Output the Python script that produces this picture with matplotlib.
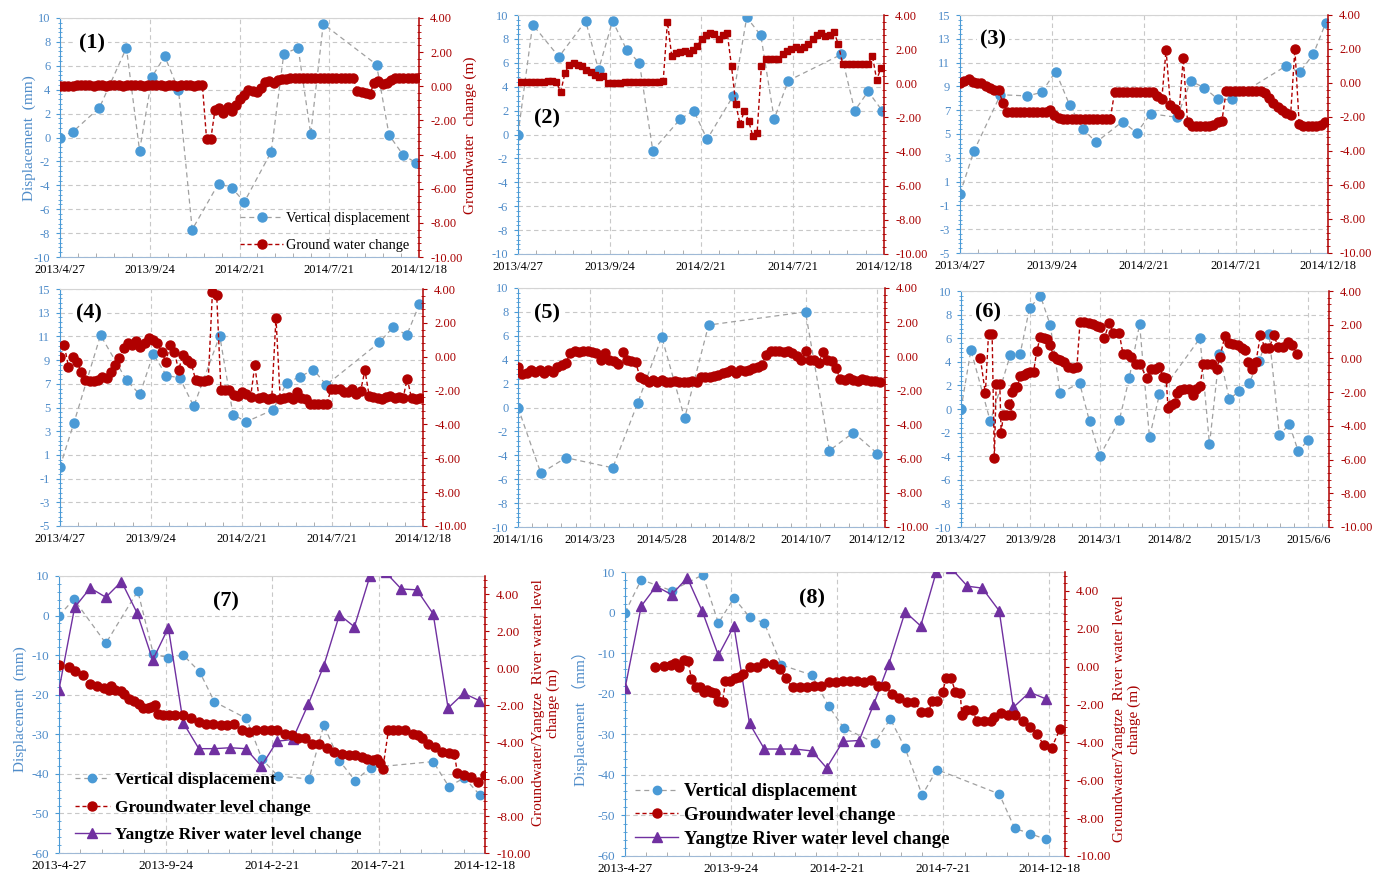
import re
import numpy as np
import pandas as pd
import matplotlib
matplotlib.use('Agg')
import matplotlib.pyplot as plt
import matplotlib.dates as mdates
from matplotlib.ticker import FixedLocator, FormatStrFormatter

plt.rcParams['font.family'] = ['Liberation Serif', 'Noto Sans CJK SC']

W, H = 1391, 883
BLUE = '#4a9ad6'
BLUE_TXT = '#4f8cc9'
RED = '#b00000'
RED_TXT = '#a80000'
PURPLE = '#7030a0'
DASH_GRAY = '#a0a0a0'

# ---------------- data ----------------
# x tick labels
ticks_a = ['2013/4/27', '2013/9/24', '2014/2/21', '2014/7/21', '2014/12/18']
ticks_5 = ['2014/1/16', '2014/3/23', '2014/5/28', '2014/8/2', '2014/10/7', '2014/12/12']
ticks_6 = ['2013/4/27', '2013/9/28', '2014/3/1', '2014/8/2', '2015/1/3', '2015/6/6']
ticks_b = ['2013-4-27', '2013-9-24', '2014-2-21', '2014-7-21', '2014-12-18']

# vertical displacement (mm), days after the first tick date
disp1_day = [0, 22, 66, 111, 133, 154, 175, 198, 221, 265, 287, 308, 353, 374, 398, 419, 440, 529, 550, 574, 595]
disp1 = [0, 0.5, 2.5, 7.5, -1.1, 5.1, 6.8, 4.0, -7.7, -3.85, -4.2, -5.4, -1.2, 7.0, 7.5, 0.3, 9.5, 6.1, 0.2, -1.5, -2.1]
disp2_day = [0, 24, 67, 111, 132, 155, 178, 199, 221, 266, 288, 310, 353, 375, 398, 420, 443, 530, 552, 574, 597]
disp2 = [0, 9.2, 6.5, 9.5, 5.4, 9.5, 7.1, 6.0, -1.35, 1.3, 2.0, -0.4, 3.25, 9.8, 8.3, 1.3, 4.5, 6.7, 2.0, 3.6, 2.0]
disp3_day = [0, 23, 66, 110, 133, 156, 179, 200, 222, 265, 288, 311, 354, 376, 398, 421, 443, 531, 554, 576, 596]
disp3 = [0, 3.6, 8.3, 8.2, 8.5, 10.25, 7.4, 5.45, 4.3, 6.05, 5.1, 6.7, 6.4, 9.45, 8.9, 7.9, 7.9, 10.7, 10.2, 11.7, 14.3]
disp4_day = [0, 23, 67, 110, 132, 154, 176, 198, 221, 264, 286, 308, 352, 375, 397, 419, 440, 528, 551, 573, 594]
disp4 = [0, 3.7, 11.1, 7.3, 6.1, 9.5, 7.7, 7.5, 5.1, 11.05, 4.4, 3.8, 4.8, 7.1, 7.6, 8.2, 6.9, 10.5, 11.8, 11.1, 13.7]
disp5_day = [0, 21, 44, 87, 110, 132, 153, 175, 264, 286, 308, 330]
disp5 = [0, -5.5, -4.2, -5.05, 0.4, 5.9, -0.9, 6.9, 8.0, -3.6, -2.1, -3.85]
disp6_day = [0, 22, 65, 109, 131, 152, 176, 198, 220, 263, 285, 308, 351, 373, 396, 418, 440, 530, 551, 573,
             595, 617, 639, 661, 683, 706, 728, 748, 770]
disp6 = [0, 5.0, -1.05, 4.55, 4.65, 8.55, 9.6, 7.1, 1.35, 2.2, -1.05, -3.95, -0.95, 2.6, 7.2, -2.4, 1.25, 6.0, -3.0,
         4.65, 0.85, 1.5, 2.2, 4.1, 6.35, -2.2, -1.3, -3.6, -2.6]
disp7_day = [0, 21, 66, 111, 133, 154, 175, 198, 219, 264, 286, 308, 352, 373, 395, 417, 439, 527, 549, 571, 593]
disp7 = [0, 4.1, -7.0, 6.2, -9.8, -10.6, -10.0, -14.2, -21.8, -26.0, -36.3, -40.5, -41.3, -27.7, -36.7, -41.7,
         -38.4, -36.9, -43.2, -41.0, -45.4]
disp8_day = [0, 23, 66, 110, 132, 154, 176, 197, 221, 264, 288, 309, 353, 375, 396, 420, 441, 529, 551, 573, 595]
disp8 = [0, 8.1, 5.4, 9.3, -2.6, 3.6, -1.1, -2.6, -12.9, -15.4, -23.1, -28.4, -32.1, -26.2, -33.4, -45.0, -38.7,
         -44.7, -53.2, -54.5, -55.9]

# groundwater change (m), regular daily-record samples
gw1_step = 7
gw1 = [0.0, 0.0, 0.0, 0.02, 0.05, 0.05, 0.05, 0.05, 0.0, 0.05,
       0.05, 0.0, 0.05, 0.05, 0.05, 0.0, 0.05, 0.05, 0.05, 0.05,
       0.0, 0.05, 0.05, 0.05, 0.05, 0.0, 0.05, 0.05, 0.0, 0.05,
       0.05, 0.05, 0.0, 0.05, 0.05, -3.1, -3.1, -1.4, -1.3, -1.55,
       -1.2, -1.45, -1.1, -0.75, -0.5, -0.2, -0.25, -0.35, -0.1, 0.25,
       0.3, 0.2, 0.35, 0.45, 0.45, 0.5, 0.5, 0.5, 0.5, 0.5,
       0.5, 0.5, 0.5, 0.5, 0.5, 0.5, 0.5, 0.5, 0.5, 0.5,
       0.5, -0.3, -0.35, -0.4, -0.45, 0.2, 0.3, 0.15, 0.2, 0.35,
       0.5, 0.5, 0.5, 0.5, 0.5, 0.5]
gw2_step = 7
gw2 = [0.05, 0.05, 0.05, 0.05, 0.08, 0.1, 0.1, 0.15, 0.15, 0.05,
       -0.5, 0.6, 1.1, 1.2, 1.1, 1.0, 0.8, 0.65, 0.5, 0.35,
       0.45, 0.0, 0.0, 0.0, 0.02, 0.05, 0.05, 0.05, 0.08, 0.08,
       0.1, 0.1, 0.1, 0.1, 0.12, 3.6, 1.6, 1.75, 1.85, 1.9,
       1.8, 1.95, 2.2, 2.6, 2.8, 2.95, 2.9, 2.6, 2.85, 2.95,
       1.0, -1.2, -2.4, -1.6, -2.2, -3.1, -2.9, 1.0, 1.45, 1.45,
       1.45, 1.45, 1.7, 1.9, 2.0, 2.1, 2.0, 2.1, 2.3, 2.6,
       2.85, 2.95, 2.75, 2.8, 3.0, 2.3, 1.15, 1.15, 1.15, 1.15,
       1.15, 1.15, 1.15, 1.6, 0.2, 0.9]
gw3_step = 7
gw3 = [0.0, 0.1, 0.25, 0.05, 0.0, 0.0, -0.2, -0.3, -0.4, -0.4,
       -1.2, -1.7, -1.7, -1.7, -1.7, -1.7, -1.7, -1.7, -1.7, -1.7,
       -1.7, -1.6, -1.9, -2.05, -2.1, -2.1, -2.1, -2.1, -2.1, -2.1,
       -2.1, -2.1, -2.1, -2.1, -2.1, -2.1, -0.55, -0.55, -0.55, -0.55,
       -0.55, -0.55, -0.55, -0.55, -0.55, -0.55, -0.75, -0.95, 1.95, -1.3,
       -1.55, -1.8, 1.45, -2.3, -2.55, -2.55, -2.55, -2.55, -2.55, -2.45,
       -2.3, -2.25, -0.45, -0.45, -0.45, -0.45, -0.45, -0.45, -0.45, -0.45,
       -0.45, -0.6, -0.9, -1.2, -1.4, -1.6, -1.75, -1.9, 2.0, -2.4,
       -2.55, -2.55, -2.55, -2.55, -2.45, -2.3]
gw4_step = 7
gw4 = [0.0, 0.7, -0.6, 0.0, -0.3, -0.9, -1.4, -1.45, -1.45, -1.4,
       -1.2, -1.25, -0.9, -0.5, -0.1, 0.5, 0.8, 0.7, 0.9, 0.6,
       0.8, 1.1, 1.0, 0.8, 0.3, -0.3, 0.7, 0.3, -0.8, 0.1,
       -0.2, -0.4, -1.35, -1.45, -1.45, -1.4, 3.85, 3.65, -1.95, -1.95,
       -1.95, -2.25, -2.3, -2.1, -2.2, -2.4, -0.5, -2.45, -2.4, -2.5,
       -2.45, 2.3, -2.5, -2.45, -2.4, -2.5, -2.1, -2.45, -2.5, -2.8,
       -2.8, -2.8, -2.8, -2.8, -1.9, -1.9, -1.9, -2.1, -2.1, -1.9,
       -2.2, -2.0, -0.8, -2.3, -2.4, -2.45, -2.5, -2.4, -2.3, -2.45,
       -2.4, -2.45, -1.3, -2.45, -2.5, -2.45]
gw5_step = 4
gw5 = [-0.6, -1.05, -0.95, -0.8, -0.9, -0.8, -0.95, -0.8, -0.9, -0.6,
       -0.5, -0.4, 0.2, 0.3, 0.25, 0.3, 0.3, 0.25, 0.2, -0.2,
       0.2, -0.2, -0.25, -0.45, 0.25, -0.2, -0.3, -0.35, -1.2, -1.35,
       -1.5, -1.4, -1.5, -1.4, -1.5, -1.5, -1.45, -1.5, -1.5, -1.5,
       -1.45, -1.5, -1.2, -1.2, -1.2, -1.15, -1.1, -1.0, -0.9, -0.8,
       -0.95, -0.8, -0.85, -0.8, -0.7, -0.6, -0.5, 0.1, 0.3, 0.3,
       0.3, 0.25, 0.3, 0.2, 0.0, -0.2, 0.3, -0.2, -0.2, -0.4,
       0.25, -0.2, -0.25, -0.7, -1.35, -1.4, -1.25, -1.4, -1.45, -1.35,
       -1.4, -1.45, -1.45, -1.5]
gw6_day = [43, 54, 61, 69, 74, 78, 86, 89, 94, 100, 106, 111, 113, 120, 125, 131, 139, 146, 153, 161,
           168, 176, 184, 190, 198, 205, 212, 220, 229, 238, 248, 257, 264, 273, 283, 292, 301, 308, 318, 329,
           338, 351, 359, 369, 378, 388, 397, 412, 421, 430, 440, 448, 455, 459, 465, 474, 478, 486, 495, 505,
           515, 522, 530, 537, 545, 556, 567, 574, 585, 595, 604, 615, 624, 630, 637, 646, 654, 664, 674, 683,
           694, 703, 714, 725, 735, 744]
gw6 = [0.0, -2.07, 1.44, 1.44, -5.92, -1.54, -1.54, -4.4, -3.36, -3.36, -2.7, -3.36, -1.97, -1.72, -1.68, -1.05,
       -0.99, -0.89, -0.83, -0.79, 0.45, 1.28, 1.24, 1.18, 0.79, 0.13, -0.04, -0.1, -0.2, -0.5,
       -0.54, -0.5, 2.17, 2.17, 2.1, 2.03, 1.9, 1.87, 1.24, 2.1, 1.48, 1.48, 0.29, 0.29, 0.06, -0.34,
       -0.34, -1.19, -0.65, -0.65, -0.5, -1.1, -1.15, -2.96, -2.77, -2.67, -2.07, -1.88, -1.84, -1.84,
       -2.17, -1.84, -1.64, -0.34, -0.34, -0.34, -0.6, 0.06, 1.32, 0.92, 0.88, 0.79, 0.59, 0.49, -0.2,
       -0.65, -0.2, 1.38, 0.59, 0.59, 1.38, 0.69, 0.65, 0.98, 0.79, 0.25]
gw7_day = [0, 14, 23, 34, 44, 54, 63, 70, 73, 79, 87, 92, 99, 106, 112, 118, 125, 130, 135, 140,
           147, 155, 164, 174, 186, 197, 207, 217, 228, 237, 247, 258, 267, 277, 289, 298, 307, 318, 328, 337,
           347, 357, 366, 377, 387, 398, 408, 417, 427, 434, 442, 448, 452, 456, 464, 471, 478, 488, 498, 505,
           511, 520, 530, 539, 549, 557, 561, 571, 580, 590, 600]
gw7 = [0.17, 0.08, -0.16, -0.34, -0.83, -0.96, -1.06, -1.19, -0.96, -1.19,
       -1.25, -1.37, -1.64, -1.79, -1.91, -2.15, -2.15, -2.1, -2.0, -2.46,
       -2.55, -2.55, -2.55, -2.55, -2.69, -2.91, -3.04, -3.04, -3.09, -3.09,
       -3.0, -3.33, -3.45, -3.36, -3.36, -3.36, -3.36, -3.54, -3.63, -3.78,
       -3.78, -4.08, -4.08, -4.32, -4.54, -4.63, -4.68, -4.72, -4.81, -4.9,
       -4.99, -4.9, -5.13, -5.44, -3.36, -3.36, -3.36, -3.36, -3.54, -3.63,
       -3.78, -4.08, -4.26, -4.54, -4.57, -4.63, -5.66, -5.77, -5.89, -6.13, -5.77]
gw8_day = [43, 55, 65, 70, 77, 84, 89, 94, 100, 106, 111, 116, 122, 127, 132, 138, 142, 148, 155, 161,
           167, 176, 186, 197, 209, 219, 227, 237, 247, 257, 267, 277, 288, 298, 308, 318, 328, 338, 348, 357,
           368, 378, 388, 398, 409, 419, 429, 434, 441, 449, 454, 461, 467, 474, 476, 482, 492, 497, 507, 517,
           522, 532, 542, 552, 562, 573, 582, 592, 603, 615]
gw8 = [0.0, 0.04, 0.07, 0.19, -0.04, 0.37, 0.28, -0.64, -1.05, -1.05,
       -1.32, -1.23, -1.32, -1.4, -1.81, -1.85, -0.78, -0.75, -0.61, -0.57,
       -0.39, -0.04, -0.02, 0.19, 0.14, -0.11, -0.61, -1.1, -1.1, -1.05,
       -1.0, -1.0, -0.82, -0.82, -0.78, -0.75, -0.78, -0.82, -0.7, -1.0,
       -1.0, -1.46, -1.64, -1.85, -1.85, -2.38, -2.42, -1.81, -1.81, -1.32,
       -0.61, -0.61, -1.32, -1.37, -2.56, -2.29, -2.29, -2.88, -2.88, -2.88,
       -2.65, -2.47, -2.56, -2.56, -2.88, -3.18, -3.53, -4.15, -4.29, -3.3]

# Yangtze River water level change (m)
river7_day = [0, 22, 44, 66, 88, 110, 132, 154, 175, 197, 219, 241, 263, 285, 307, 329, 351, 373, 395, 416,
              438, 460, 482, 504, 527, 548, 570, 592]
river7 = [-1.15, 3.3, 4.35, 3.85, 4.7, 3.0, 0.45, 2.2, -2.95, -4.35, -4.35, -4.3, -4.35, -5.3, -3.95, -3.85,
          -1.95, 0.15, 2.9, 2.25, 5.0, 5.2, 4.3, 4.25, 2.95, -2.15, -1.35, -1.75]
river8_day = [0, 23, 44, 66, 88, 109, 132, 154, 176, 197, 219, 240, 264, 285, 308, 331, 352, 373, 396, 418,
              440, 461, 484, 505, 529, 549, 572, 595]
river8 = [-1.15, 3.2, 4.25, 3.8, 4.7, 2.95, 0.6, 2.15, -3.0, -4.35, -4.35, -4.35, -4.45, -5.35, -3.95, -3.9,
          -1.95, 0.15, 2.9, 2.15, 5.0, 5.2, 4.25, 4.15, 2.95, -2.15, -1.35, -1.7]


# ---------------- helpers ----------------
def to_date(s):
    y, m, d = map(int, re.split('[/-]', s))
    return pd.Timestamp(y, m, d)


def at(start, days):
    return to_date(start) + pd.to_timedelta(np.asarray(days), unit='D')


def px_rect(x0, y0, x1, y1):
    return [x0 / W, 1 - y1 / H, (x1 - x0) / W, (y1 - y0) / H]


fig = plt.figure(figsize=(W / 100, H / 100), dpi=100)


def panel(rect, xlabels, xend, left_lim, left_step, right_top, fs):
    ax = fig.add_axes(px_rect(*rect))
    ax2 = ax.twinx()
    t0, t1 = to_date(xlabels[0]), to_date(xend)
    ticks = [to_date(s) for s in xlabels]
    ax.set_xlim(t0, t1)
    ax.set_xticks(ticks)
    ax.set_xticklabels(xlabels, fontsize=fs)
    nums = mdates.date2num(ticks)
    step = (nums[1] - nums[0]) / 5
    ax.xaxis.set_minor_locator(FixedLocator(np.arange(nums[0], mdates.date2num(t1) + 1e-6, step)))

    ax.set_ylim(left_lim)
    ax.yaxis.set_major_locator(FixedLocator(np.arange(left_lim[0], left_lim[1] + 1e-6, left_step)))
    ax.yaxis.set_minor_locator(FixedLocator(np.arange(left_lim[0], left_lim[1] + 1e-6, left_step / 5)))
    ax.yaxis.set_major_formatter(FormatStrFormatter('%d'))
    ax2.set_ylim(-10, right_top)
    ax2.yaxis.set_major_locator(FixedLocator(np.arange(-10, 4.01, 2)))
    ax2.yaxis.set_minor_locator(FixedLocator(np.arange(-10, right_top + 1e-6, 0.4)))
    ax2.yaxis.set_major_formatter(FormatStrFormatter('%.2f'))

    ax.grid(True, which='major', color='#c8c8c8', lw=0.8, ls=(0, (4, 3)))
    ax.set_axisbelow(True)
    ax2.patch.set_visible(False)

    ax.spines['left'].set_color(BLUE)
    ax.spines['right'].set_visible(False)
    ax.spines['top'].set_color('#d4d4d4')
    ax.spines['bottom'].set_color('#9fb9d6')
    for s in ['left', 'top', 'bottom']:
        ax2.spines[s].set_visible(False)
    ax2.spines['right'].set_color(RED)
    ax2.spines['right'].set_linewidth(1.1)

    ax.tick_params(axis='y', which='major', colors=BLUE, labelcolor=BLUE_TXT, length=3,
                   width=0.8, labelsize=fs, pad=4)
    ax.tick_params(axis='y', which='minor', colors=BLUE, length=2.5, width=0.6, direction='inout')
    ax.tick_params(axis='x', which='major', length=0, labelsize=fs, pad=5)
    ax.tick_params(axis='x', which='minor', length=3, direction='in', color='#a0a0a0')
    ax2.tick_params(axis='y', which='major', colors=RED, labelcolor=RED_TXT, length=3,
                    width=0.8, labelsize=fs, pad=5)
    ax2.tick_params(axis='y', which='minor', colors=RED, length=2.5, width=0.6, direction='inout')
    return ax, ax2


def tag(text, x, y):
    fig.text(x / W, 1 - y / H, text, ha='center', va='center', fontsize=16, fontweight='bold',
             bbox=dict(fc='white', ec='none', pad=2))


def disp_line(ax, start, days, vals, ms=6.5):
    return ax.plot(at(start, days), vals, ls=(0, (4, 3)), color=DASH_GRAY, lw=0.9, marker='o', ms=ms,
                   mfc=BLUE, mec=BLUE, label='Vertical displacement')[0]


def gw_line(ax, start, days, vals, label, marker='o', ms=6.5):
    return ax.plot(at(start, days), vals, ls=(0, (3, 2)), color=RED, lw=1.0, marker=marker, ms=ms,
                   mfc=RED, mec=RED, label=label)[0]


# ---------------- panels 1-6 ----------------
specs = [
    ((60, 18, 419, 257), ticks_a, '2014/12/18', (-10, 10), 2),
    ((518, 15, 884, 254), ticks_a, '2014/12/18', (-10, 10), 2),
    ((960, 15, 1328, 253), ticks_a, '2014/12/18', (-5, 15), 2),
    ((60, 289, 423, 526), ticks_a, '2014/12/18', (-5, 15), 2),
    ((518, 288, 885, 527), ticks_5, '2014/12/19', (-10, 10), 2),
    ((961, 291, 1329, 527), ticks_6, '2015/7/22', (-10, 10), 2),
]
disp_days = [disp1_day, disp2_day, disp3_day, disp4_day, disp5_day, disp6_day]
disp_vals = [disp1, disp2, disp3, disp4, disp5, disp6]
gw_vals = [gw1, gw2, gw3, gw4, gw5, gw6]
gw_steps = [gw1_step, gw2_step, gw3_step, gw4_step, gw5_step, None]
tag_pos = [(92, 43), (547, 118), (993, 39), (89, 313), (547, 313), (988, 312)]

for i, (rect, xl, xend, llim, lstep) in enumerate(specs):
    ax, ax2 = panel(rect, xl, xend, llim, lstep, 4, 9)
    start = xl[0]
    h1 = disp_line(ax, start, disp_days[i], disp_vals[i])
    if gw_steps[i] is None:
        days = gw6_day
    else:
        days = np.arange(len(gw_vals[i])) * gw_steps[i]
    if i == 1:
        h2 = gw_line(ax2, start, days, gw_vals[i], 'Ground water change', marker='s', ms=4.3)
    else:
        h2 = gw_line(ax2, start, days, gw_vals[i], 'Ground water change')
    tag('(%d)' % (i + 1), *tag_pos[i])
    if i == 0:
        ax2.legend([h1, h2], ['Vertical displacement', 'Ground water change'], loc='upper left',
                   bbox_to_anchor=(240 / W, 1 - 212 / H), bbox_transform=fig.transFigure,
                   frameon=False, borderpad=0, borderaxespad=0, handlelength=3.0, handletextpad=0.2,
                   labelspacing=0.98, prop={'size': 10.4})

fig.text(29 / W, 1 - 138 / H, 'Displacement  (mm)', rotation=90, ha='center', va='center',
         color=BLUE_TXT, fontsize=11)
fig.text(470 / W, 1 - 135 / H, 'Groundwater  change (m)', rotation=90, ha='center', va='center',
         color=RED_TXT, fontsize=11)

# ---------------- panels 7-8 ----------------
right_label = 'Groundwater/Yangtze  River water level\nchange (m)'
bottom_specs = [
    ((59, 576, 485, 853), '2014-12-18', disp7_day, disp7, gw7_day, gw7, river7_day, river7,
     (226, 601), 12.5, (75, 772), 0.66, 2.0),
    ((625, 572, 1065, 856), '2015-1-9', disp8_day, disp8, gw8_day, gw8, river8_day, river8,
     (812, 598), 13.5, (635, 783), 0.35, 2.3),
]
for j, (rect, xend, dd, dv, gd, gv, rd, rv, tp, lfs, lpos, lsp, hl) in enumerate(bottom_specs):
    ax, ax2 = panel(rect, ticks_b, xend, (-60, 10), 10, 5, 9.5)
    start = ticks_b[0]
    h1 = disp_line(ax, start, dd, dv, ms=6)
    h3 = ax2.plot(at(start, rd), rv, color=PURPLE, lw=1.0, marker='^', ms=6.5,
                  label='Yangtze River water level change')[0]
    h2 = gw_line(ax2, start, gd, gv, 'Groundwater level change', ms=6.5)
    tag('(%d)' % (j + 7), *tp)
    ax2.legend([h1, h2, h3], ['Vertical displacement', 'Groundwater level change',
                              'Yangtze River water level change'],
               loc='upper left', bbox_to_anchor=(lpos[0] / W, 1 - lpos[1] / H),
               bbox_transform=fig.transFigure, frameon=False, borderpad=0, borderaxespad=0,
               handlelength=hl, handletextpad=0.3, labelspacing=lsp,
               prop={'size': lfs, 'weight': 'bold'})

fig.text(20 / W, 1 - 709 / H, 'Displacement  (mm)', rotation=90, ha='center', va='center',
         color=BLUE_TXT, fontsize=11)
fig.text(546 / W, 1 - 703 / H, right_label, rotation=90, ha='center', va='center',
         multialignment='center', color=RED_TXT, fontsize=11)
fig.text(580 / W, 1 - 715 / H, 'Displacement （mm）', rotation=90, ha='center', va='center',
         color=BLUE_TXT, fontsize=11, family=['Liberation Serif', 'Noto Sans CJK SC'])
fig.text(1127 / W, 1 - 719 / H, right_label, rotation=90, ha='center', va='center',
         multialignment='center', color=RED_TXT, fontsize=11)

fig.savefig('out.png', dpi=100)
